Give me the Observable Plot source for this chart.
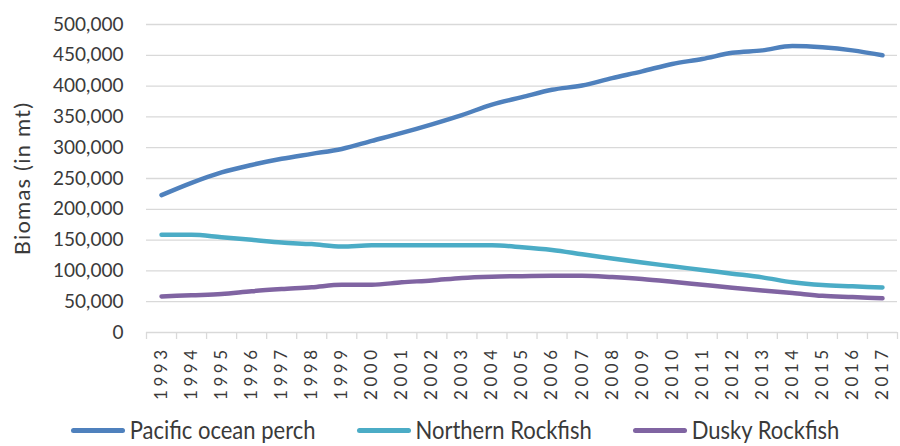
<!DOCTYPE html>
<html>
<head>
<meta charset="utf-8">
<script src="https://cdn.jsdelivr.net/npm/d3@7"></script>
<script src="https://cdn.jsdelivr.net/npm/@observablehq/plot@0.6"></script>
<style>
  html, body { margin: 0; padding: 0; background: #fff; }
  body { width: 900px; height: 446px; overflow: hidden; font-family: Lato, "Open Sans", sans-serif; }
  #chart svg { display: block; }
  #chart g[aria-label="y-axis tick label"] text { font-size: 19px; }
  #chart g[aria-label="x-axis tick label"] text { font-size: 17px; letter-spacing: 3.5px; }
  #chart .ylabel text { letter-spacing: 1.2px; }
  .legend { display: flex; justify-content: center; align-items: center; height: 30px; margin-top: 3px; padding-left: 10px; color: #3a3a3a; font-size: 22px; line-height: 24px; }
  .legend .item { display: flex; align-items: center; }
  .legend .item + .item { margin-left: 41px; }
  .legend .sw { display: inline-block; width: 54px; height: 5px; border-radius: 3px; margin-right: 5px; }
  .legend .lab { display: inline-block; transform: scaleY(1.12); }
</style>
</head>
<body>
<div id="chart"></div>
<script>
const years = [1993, 1994, 1995, 1996, 1997, 1998, 1999, 2000, 2001, 2002, 2003, 2004, 2005, 2006, 2007, 2008, 2009, 2010, 2011, 2012, 2013, 2014, 2015, 2016, 2017];
const pacificOceanPerch = [223000, 243000, 260000, 272000, 282000, 290000, 298000, 311000, 324000, 338000, 353000, 370000, 382000, 394000, 401000, 413000, 424000, 436000, 444000, 454000, 458000, 465000, 463000, 458000, 450000];
const northernRockfish = [158500, 158500, 154500, 150500, 146000, 143500, 139500, 141500, 141500, 141500, 141500, 141500, 138500, 134000, 127000, 120000, 113500, 107500, 101500, 95500, 89500, 81500, 77000, 75000, 73000];
const duskyRockfish = [58500, 60500, 62500, 67000, 70500, 73500, 77500, 77500, 81500, 84500, 88500, 90500, 91500, 92000, 92000, 90000, 87000, 82500, 77500, 72500, 68000, 64000, 59500, 57500, 55500];
const seriesNames = ["Pacific ocean perch", "Northern Rockfish", "Dusky Rockfish"];
const seriesColors = ["#4f81bd", "#4bacc6", "#8064a2"];
const yTicks = [0, 50000, 100000, 150000, 200000, 250000, 300000, 350000, 400000, 450000, 500000];
const yLabel = "Biomas (in mt)";

const seriesValues = [pacificOceanPerch, northernRockfish, duskyRockfish];
const data = [];
seriesNames.forEach((name, i) => {
  years.forEach((yr, j) => data.push({series: name, year: yr, value: seriesValues[i][j]}));
});
const boundaries = years.map(y => y - 0.5).concat([years[years.length - 1] + 0.5]);

const chart = Plot.plot({
  width: 900,
  height: 412,
  marginLeft: 146,
  marginRight: 3,
  marginTop: 24,
  marginBottom: 80,
  style: {fontFamily: "Lato, 'Open Sans', sans-serif", color: "#3a3a3a", background: "#fff"},
  x: {domain: [years[0] - 0.5, years[years.length - 1] + 0.5]},
  y: {domain: [0, 500000]},
  color: {domain: seriesNames, range: seriesColors},
  marks: [
    Plot.gridY({ticks: yTicks, stroke: "#d9d9d9", strokeOpacity: 1, strokeWidth: 1.3}),
    Plot.axisY({ticks: yTicks, tickFormat: d3.format(","), tickSize: 0, tickPadding: 23, label: null}),
    Plot.axisX({ticks: boundaries, tickFormat: () => "", tickSize: 7, stroke: "#d9d9d9", strokeOpacity: 1, strokeWidth: 1.3, label: null}),
    Plot.axisX({ticks: years, tickFormat: d => String(d), tickRotate: -90, tickSize: 0, tickPadding: 14, label: null}),
    Plot.text([yLabel], {frameAnchor: "left", textAnchor: "middle", rotate: -90, dx: -124, fontSize: 22, fill: "#3a3a3a", className: "ylabel"}),
    Plot.line(data, {x: "year", y: "value", z: "series", stroke: "series", strokeWidth: 4.5, curve: "monotone-x", strokeLinecap: "round", strokeLinejoin: "round"})
  ]
});
document.getElementById("chart").appendChild(chart);

const legend = document.createElement("div");
legend.className = "legend";
seriesNames.forEach((name, i) => {
  const item = document.createElement("div");
  item.className = "item";
  const sw = document.createElement("span");
  sw.className = "sw";
  sw.style.background = seriesColors[i];
  const lab = document.createElement("span");
  lab.className = "lab";
  lab.textContent = name;
  item.appendChild(sw);
  item.appendChild(lab);
  legend.appendChild(item);
});
document.body.appendChild(legend);
</script>
</body>
</html>
